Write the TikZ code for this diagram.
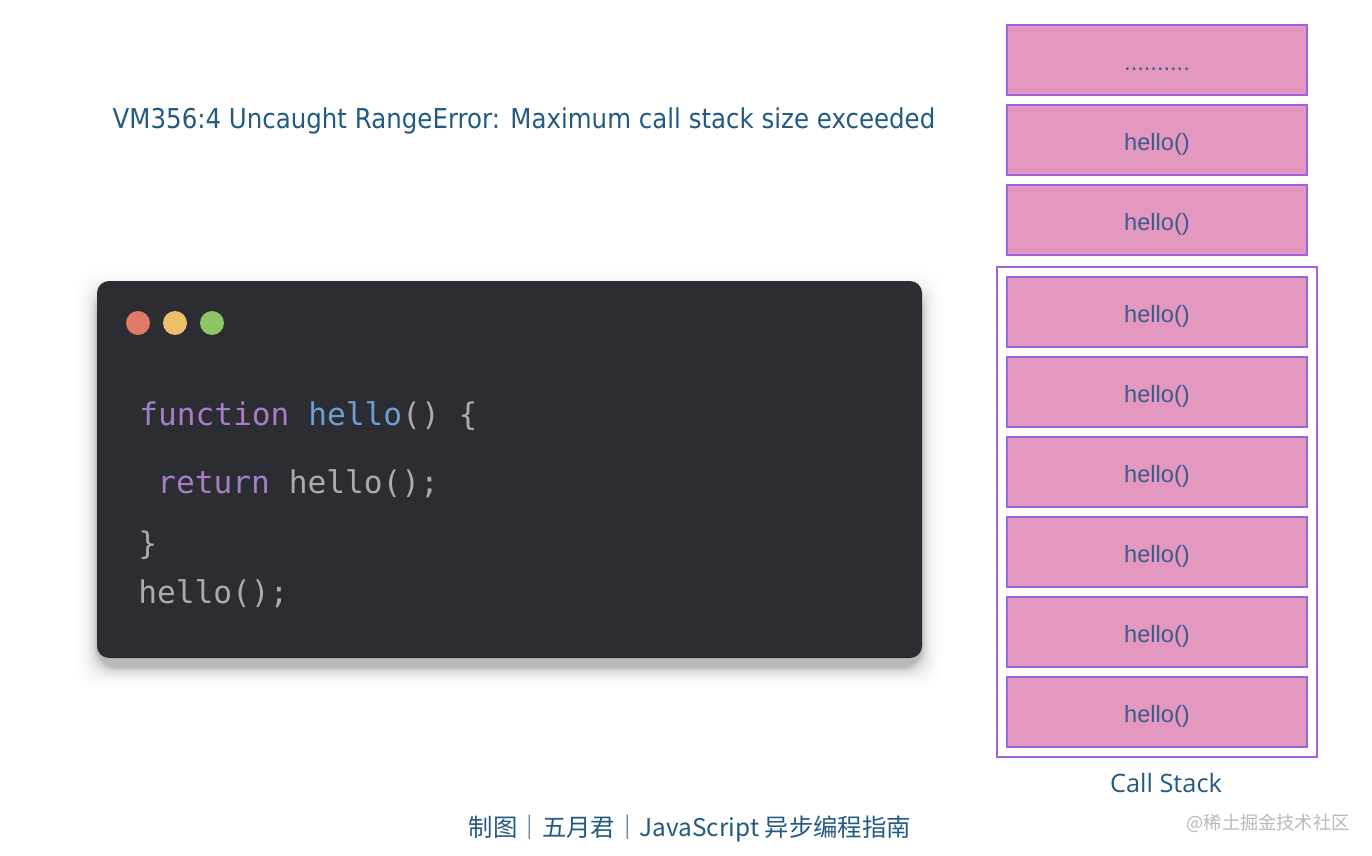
\documentclass[tikz,border=0pt]{standalone}
\usepackage{xcolor}
\usepackage{fontspec}
\usepackage{tikz}
\usetikzlibrary{positioning, fit}
\setmainfont{Liberation Sans}
\setmonofont{DejaVu Sans Mono}
\newfontfamily\titlefont{Open Sans}
\newfontfamily\errorfont[FakeStretch=0.896]{DejaVu Sans}
\newfontfamily\cjkfont{Noto Sans CJK SC}
\definecolor{framepurple}{HTML}{A063DF}
\definecolor{boxpink}{HTML}{E498BF}
\definecolor{boxtext}{HTML}{3A5C8C}
\definecolor{captionblue}{HTML}{235A7F}
\definecolor{cardgrey}{HTML}{2B2D33}
\definecolor{codegrey}{HTML}{A9ABAE}
\definecolor{codepurple}{HTML}{A67CC4}
\definecolor{codeblue}{HTML}{6F9FD0}
\tikzset{
  x=0.75pt, y=-0.75pt,
  stackbox/.style={draw=framepurple, line width=1.5pt, fill=boxpink, text=boxtext, outer sep=0,
    minimum width=225pt, minimum height=52.5pt, text height=16pt, text depth=0.8pt,
    font=\fontsize{17.7}{20}\selectfont},
  winbtn/.style={circle, minimum size=18pt, inner sep=0},
  codeline/.style={anchor=base west, inner sep=0, text=codegrey, font=\ttfamily\fontsize{23.4}{26}\selectfont},
  caption/.style={inner sep=0, text=captionblue}
}
\begin{document}
\begin{tikzpicture}
\useasboundingbox (0,0) rectangle (1372,856);
% stack above the frame
\node[stackbox] (dots) at (1157,60) {..........};
\node[stackbox] (hello_a) [below=7.5pt of dots] {hello()};
\node[stackbox] (hello_b) [below=7.5pt of hello_a] {hello()};
% stack inside the frame
\node[stackbox] (hello_c) [below=16.5pt of hello_b] {hello()};
\node[stackbox] (hello_d) [below=7.5pt of hello_c] {hello()};
\node[stackbox] (hello_e) [below=7.5pt of hello_d] {hello()};
\node[stackbox] (hello_f) [below=7.5pt of hello_e] {hello()};
\node[stackbox] (hello_g) [below=7.5pt of hello_f] {hello()};
\node[stackbox] (hello_h) [below=7.5pt of hello_g] {hello()};
\node[draw=framepurple, line width=1.5pt, inner sep=7.5pt, outer sep=0, fit=(hello_c)(hello_h)] (stack_frame) {};
\node[caption, font=\titlefont\fontsize{19}{22}\selectfont] (stack_label) at (1166,783) {Call Stack};
% card shadow
\foreach \s in {1,...,24}
  \fill[black, opacity={0.026-0.001*\s}, rounded corners=16pt] ({97-0.04*\s*\s},{281+10-0.04*\s*\s}) rectangle ({922+0.04*\s*\s},{658+10+0.04*\s*\s});
\fill[cardgrey, rounded corners=9pt] (97,281) rectangle (922,658);
\node[winbtn, fill={rgb,255:red,224;green,122;blue,102}] (btn_red) at (138,323) {};
\node[winbtn, fill={rgb,255:red,236;green,192;blue,105}] (btn_yellow) at (175,323) {};
\node[winbtn, fill={rgb,255:red,140;green,196;blue,102}] (btn_green) at (212,323) {};
\node[codeline] (code_a) at (139,425) {\textcolor{codepurple}{function} \textcolor{codeblue}{hello}() \{};
\node[codeline] (code_b) at (157,493) {\textcolor{codepurple}{return} hello();};
\node[codeline] (code_c) at (138,554) {\}};
\node[codeline] (code_d) at (138,603) {hello();};
% captions
\node[caption, anchor=base, font=\errorfont\fontsize{20.5}{24}\selectfont] (error_msg) at (524,128) {VM356:4 Uncaught RangeError: Maximum call stack size exceeded};
\node[caption, font=\cjkfont\fontsize{18.3}{22}\selectfont] (credit) at (690,829) {制图｜五月君｜JavaScript 异步编程指南};
\node[inner sep=0, text=black!28, font=\cjkfont\fontsize{13.65}{18}\selectfont] (watermark) at (1268,823) {@稀土掘金技术社区};
\end{tikzpicture}
\end{document}
